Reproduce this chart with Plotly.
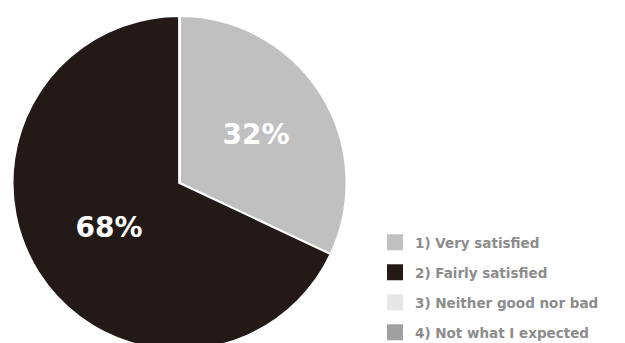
import plotly.graph_objects as go

categories = ["1) Very satisfied", "2) Fairly satisfied", "3) Neither good nor bad", "4) Not what I expected"]
values = [32, 68, 0, 0]
colors = ["#BFC0BF", "#231A18", "#E6E6E6", "#A0A0A0"]

W, H = 625, 366
LEG_FONT = 13.5
fig = go.Figure()
fig.add_trace(go.Pie(
    labels=categories, values=values, sort=False, direction="clockwise", rotation=0,
    marker=dict(colors=colors, line=dict(color="white", width=2)),
    texttemplate=["%{percent:.0%}", "%{percent:.0%}", "", ""],
    textposition="inside", insidetextorientation="horizontal",
    textfont=dict(family="DejaVu Sans", size=28, color="white", weight="bold"),
    showlegend=False, hoverinfo="label+percent",
    domain=dict(x=[12.5 / W, 346.5 / W], y=[0, 1]),
))
for cat, col in zip(categories, colors):
    fig.add_trace(go.Scatter(
        x=[None], y=[None], mode="markers", name=cat, legendgroup=cat,
        marker=dict(symbol="square", size=16, color=col),
    ))

item_h = max(LEG_FONT * 1.3, 16) + 3
fig.update_layout(
    width=W, height=H,
    margin=dict(l=0, r=0, t=16, b=16),
    paper_bgcolor="white", plot_bgcolor="white",
    xaxis=dict(visible=False), yaxis=dict(visible=False),
    legend=dict(
        x=375 / W, xanchor="left", y=1 - (227 - 16) / (H - 32), yanchor="top",
        font=dict(family="DejaVu Sans", size=LEG_FONT, color="#8C8C8C", weight="bold"),
        tracegroupgap=30 - item_h, traceorder="grouped", bgcolor="rgba(0,0,0,0)",
    ),
)

fig.write_html("out.html", post_script="document.body.style.overflow='hidden';document.documentElement.style.overflow='hidden';")
